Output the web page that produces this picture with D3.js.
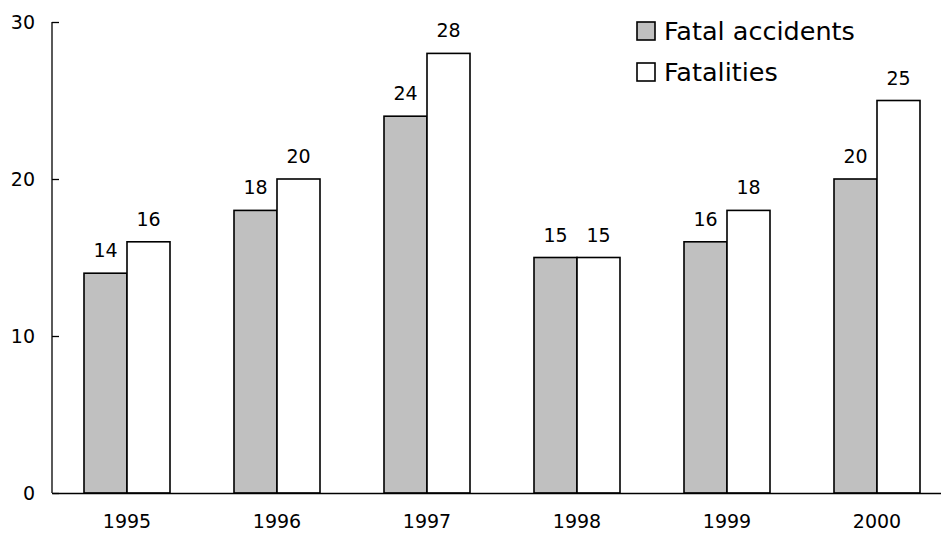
<!DOCTYPE html>
<html>
<head>
<meta charset="utf-8">
<script src="https://cdn.jsdelivr.net/npm/d3@7"></script>
<style>
  body { margin: 0; background: #fff; }
  svg { display: block; font-family: "DejaVu Sans", sans-serif; }
</style>
</head>
<body>
<svg width="941" height="537"></svg>
<script>
// chart data
const years = ['1995', '1996', '1997', '1998', '1999', '2000'];
const series = ['Fatal accidents', 'Fatalities'];
const fatalAccidents = [14, 18, 24, 15, 16, 20];
const fatalities = [16, 20, 28, 15, 18, 25];
const yTicks = [0, 10, 20, 30];
const colors = ['#c0c0c0', '#ffffff'];

const svg = d3.select('svg');
const width = 941;
const height = 537;
const margin = { top: 22, right: -11, bottom: 44, left: 52 };

const x = d3.scaleBand()
    .domain(years)
    .range([margin.left, width - margin.right])
    .paddingInner(0.4267)
    .paddingOuter(0.21335);

const x1 = d3.scaleBand()
    .domain(series)
    .range([0, x.bandwidth()]);

const y = d3.scaleLinear()
    .domain([0, 30])
    .range([height - margin.bottom, margin.top]);

const rows = years.map((yr, i) => ({ year: yr, values: [fatalAccidents[i], fatalities[i]] }));

// bars
const groups = svg.selectAll('.grp')
    .data(rows)
    .enter().append('g')
    .attr('class', 'grp')
    .attr('transform', d => `translate(${x(d.year)},0)`);

groups.selectAll('rect')
    .data(d => d.values.map((v, j) => ({ key: series[j], value: v, idx: j })))
    .enter().append('rect')
    .attr('x', d => x1(d.key))
    .attr('y', d => y(d.value))
    .attr('width', x1.bandwidth())
    .attr('height', d => y(0) - y(d.value))
    .attr('fill', d => colors[d.idx])
    .attr('stroke', '#000')
    .attr('stroke-width', 1.6);

groups.selectAll('text')
    .data(d => d.values.map((v, j) => ({ key: series[j], value: v })))
    .enter().append('text')
    .attr('x', d => x1(d.key) + x1.bandwidth() / 2)
    .attr('y', d => y(d.value) - 16)
    .attr('text-anchor', 'middle')
    .attr('font-size', 19)
    .attr('fill', '#000')
    .text(d => d.value);

// y axis
const yAxis = svg.append('g')
    .attr('transform', `translate(${margin.left},0)`)
    .call(d3.axisRight(y).tickValues(yTicks).tickSize(7).tickFormat(d3.format('d')));
yAxis.select('.domain').attr('stroke', '#000').attr('stroke-width', 1.3).attr('d', `M0,${y(30)}V${y(0)}`);
yAxis.selectAll('.tick line').attr('stroke', '#000').attr('stroke-width', 1.3);
yAxis.selectAll('.tick text')
    .attr('x', -17)
    .attr('text-anchor', 'end')
    .attr('font-size', 19)
    .attr('font-family', 'DejaVu Sans, sans-serif')
    .attr('fill', '#000');

// x axis
const xAxis = svg.append('g')
    .attr('transform', `translate(0,${y(0)})`)
    .call(d3.axisBottom(x).tickSize(0).tickPadding(22));
xAxis.select('.domain').attr('stroke', '#000').attr('stroke-width', 1.3);
xAxis.selectAll('.tick text')
    .attr('font-size', 19)
    .attr('font-family', 'DejaVu Sans, sans-serif')
    .attr('fill', '#000');

// legend
const legend = svg.append('g').attr('transform', 'translate(637,22)');
series.forEach((s, i) => {
    const g = legend.append('g').attr('transform', `translate(0,${i * 41})`);
    g.append('rect')
        .attr('width', 18).attr('height', 18)
        .attr('fill', colors[i])
        .attr('stroke', '#000').attr('stroke-width', 1.6);
    g.append('text')
        .attr('x', 27).attr('y', 18)
        .attr('font-size', 25.5)
        .attr('fill', '#000')
        .text(s);
});
</script>
</body>
</html>
